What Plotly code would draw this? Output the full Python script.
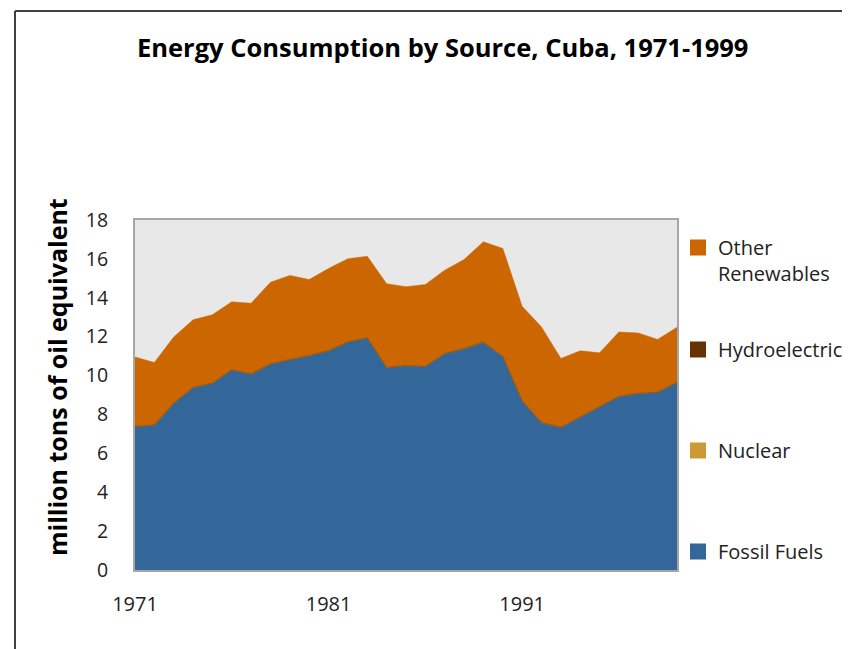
import plotly.graph_objects as go

years = list(range(1971, 2000))
fossil_fuels = [7.37, 7.45, 8.57, 9.38, 9.60, 10.29, 10.07, 10.59, 10.81, 11.02,
                11.27, 11.72, 11.93, 10.41, 10.50, 10.46, 11.12, 11.38, 11.70, 10.98,
                8.69, 7.57, 7.33, 7.85, 8.36, 8.92, 9.07, 9.14, 9.64]
nuclear = [0.0] * 29
hydroelectric = [0.01] * 29
total = [10.95, 10.67, 11.98, 12.87, 13.13, 13.79, 13.72, 14.80, 15.15, 14.94,
         15.51, 16.01, 16.13, 14.72, 14.57, 14.68, 15.42, 15.97, 16.88, 16.54,
         13.56, 12.50, 10.88, 11.27, 11.17, 12.24, 12.19, 11.86, 12.48]
other_renewables = [round(t - f - h, 2) for t, f, h in zip(total, fossil_fuels, hydroelectric)]

x_ticks = [1971, 1981, 1991]
y_ticks = list(range(0, 19, 2))

COL_FOSSIL = "#336699"
COL_NUC = "#CC9933"
COL_HYDRO = "#663300"
COL_OTHER = "#CC6600"

FONT = "Open Sans"

# page offset (body margin) so that positions below are in page pixels
OFF = 8
W_FIG, H_FIG = 850, 649
PL, PR, PT, PB = 135, 677, 220, 570  # plot area in page pixels
L = PL - OFF
T = PT - OFF
R = W_FIG - (PR - OFF)
B = H_FIG - (PB - OFF)
W, H = PR - PL, PB - PT

def px(xp):
    return (xp - PL) / W

def py(yp):
    return (PB - yp) / H

fig = go.Figure()
for name, vals, col in [("Fossil Fuels", fossil_fuels, COL_FOSSIL),
                        ("Nuclear", nuclear, COL_NUC),
                        ("Hydroelectric", hydroelectric, COL_HYDRO),
                        ("Other Renewables", other_renewables, COL_OTHER)]:
    fig.add_trace(go.Scatter(x=years, y=vals, name=name, stackgroup="one",
                             mode="lines", line=dict(width=0.5, color=col),
                             fillcolor=col, showlegend=False, hoverinfo="x+y+name"))

legend_items = [("Other<br>Renewables", COL_OTHER, "legend", 248),
                ("Hydroelectric", COL_HYDRO, "legend2", 350),
                ("Nuclear", COL_NUC, "legend3", 451),
                ("Fossil Fuels", COL_FOSSIL, "legend4", 552)]
legend_layouts = {}
for label, col, lg, ycen in legend_items:
    fig.add_trace(go.Scatter(x=[None], y=[None], mode="markers", name=label,
                             marker=dict(symbol="square", size=16, color=col),
                             legend=lg, showlegend=True))
    legend_layouts[lg] = dict(x=px(678), xanchor="left", y=py(ycen - 20), yanchor="top",
                              valign="top", bgcolor="rgba(0,0,0,0)",
                              font=dict(family=FONT, size=20, color="#222222"),
                              itemclick=False, itemdoubleclick=False)

fig.update_layout(**legend_layouts)

fig.update_layout(
    width=W_FIG, height=H_FIG,
    margin=dict(l=L, r=R, t=T, b=B, autoexpand=False),
    paper_bgcolor="white",
    plot_bgcolor="#E8E8E8",
    font=dict(family=FONT, color="#222222"),
    showlegend=True,
    xaxis=dict(range=[1971, 1999], tickvals=x_ticks, ticktext=[str(v) for v in x_ticks],
               showgrid=False, zeroline=False, showline=True, mirror=True,
               linecolor="#A6A6A6", linewidth=2, ticks="", ticklabelstandoff=15,
               tickfont=dict(family=FONT, size=20, color="#222222")),
    yaxis=dict(range=[0, 18], tickvals=y_ticks, showgrid=False, zeroline=False,
               showline=True, mirror=True, linecolor="#A6A6A6", linewidth=2,
               ticks="", ticklabelstandoff=21,
               tickfont=dict(family=FONT, size=19.5, color="#222222")),
    annotations=[
        dict(text="<b>Energy Consumption by Source, Cuba, 1971-1999</b>",
             xref="paper", yref="paper", x=px(442), y=py(47), xanchor="center",
             yanchor="middle", showarrow=False,
             font=dict(family=FONT, size=25.5, color="#000000")),
        dict(text="<b>million tons of oil equivalent</b>", textangle=-90,
             xref="paper", yref="paper", x=px(57), y=py(377), xanchor="center",
             yanchor="middle", showarrow=False,
             font=dict(family=FONT, size=25, color="#000000")),
    ],
    shapes=[
        dict(type="line", xref="paper", yref="paper", x0=px(15), x1=px(870),
             y0=py(11), y1=py(11), line=dict(color="#000000", width=1.5)),
        dict(type="line", xref="paper", yref="paper", x0=px(15), x1=px(15),
             y0=py(11), y1=py(670), line=dict(color="#404040", width=2)),
    ],
)

fig.write_html("out.html")
